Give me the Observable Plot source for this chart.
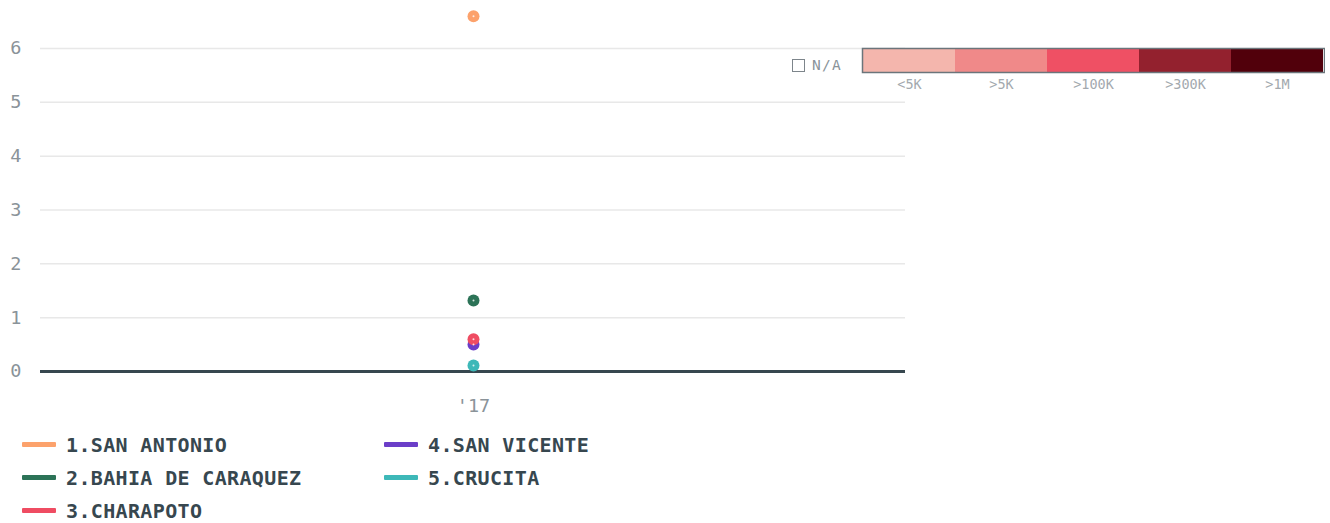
<!DOCTYPE html>
<html>
<head>
<meta charset="utf-8">
<script src="https://cdn.jsdelivr.net/npm/d3@7"></script>
<script src="https://cdn.jsdelivr.net/npm/@observablehq/plot@0.6"></script>
<style>
  body { margin: 0; background: #fff; font-family: "DejaVu Sans Mono", monospace; }
  #wrap { position: relative; width: 1330px; height: 523px; }
  #main { position: absolute; left: 0; top: 0; }
  #scale { position: absolute; left: 861px; top: 47px; }
  #na { position: absolute; left: 792px; top: 57px; display: flex; align-items: center; color: #8a9399; font-size: 14.5px; letter-spacing: 1.3px; }
  #na .box { width: 11px; height: 11px; border: 1.5px solid #7d858b; margin-right: 7px; }
  #legend { position: absolute; left: 22px; top: 428px; display: grid; grid-template-columns: 362px 300px; row-gap: 0; }
  .item { display: flex; align-items: center; height: 33px; font-weight: bold; font-size: 20px; color: #37474f; letter-spacing: 0.35px; }
  .item .sw { width: 34px; height: 5px; margin-right: 10px; border-radius: 1px; }
</style>
</head>
<body>
<div id="wrap">
  <div id="main"></div>
  <div id="na"><span class="box"></span>N/A</div>
  <div id="scale"></div>
  <div id="legend"></div>
</div>
<script>
// Data
const years = ["'17"];
const seriesNames = ["1.SAN ANTONIO", "2.BAHIA DE CARAQUEZ", "3.CHARAPOTO", "4.SAN VICENTE", "5.CRUCITA"];
const seriesColors = ["#fca26c", "#2c7357", "#ef4c62", "#6b3ec8", "#3db8b8"];
const values2017 = [6.6, 1.32, 0.6, 0.5, 0.11];
const yTicks = [0, 1, 2, 3, 4, 5, 6];
const binLabels = ["<5K", ">5K", ">100K", ">300K", ">1M"];
const binColors = ["#f4b6ad", "#f08989", "#ef5064", "#93212e", "#51000b"];

const data = seriesNames.map((name, i) => ({name, year: years[0], value: values2017[i], color: seriesColors[i]}));
const drawOrder = data.slice().reverse();

const chart = Plot.plot({
  width: 1330,
  height: 420,
  marginLeft: 40,
  marginRight: 425,
  marginTop: 15.7,
  marginBottom: 49,
  style: {fontFamily: "DejaVu Sans Mono, monospace", fontSize: "18.5px", color: "#8a9399", background: "transparent"},
  x: {type: "point", domain: years, label: null, tickSize: 0, tickPadding: 27},
  y: {domain: [0, 6.6], ticks: yTicks, label: null, tickSize: 0, tickPadding: 19, tickFormat: d => String(d)},
  marks: [
    Plot.ruleY(yTicks.filter(d => d !== 0), {stroke: "#e8e8e8", strokeWidth: 1.5}),
    Plot.ruleY([0], {stroke: "#37474f", strokeWidth: 3}),
    Plot.dot(drawOrder, {x: "year", y: "value", fill: "color", r: 6}),
    Plot.dot(drawOrder, {x: "year", y: "value", fill: "#ffffff", fillOpacity: 0.8, r: 1})
  ]
});
document.getElementById("main").appendChild(chart);

const scale = Plot.plot({
  width: 464,
  height: 47,
  marginLeft: 1,
  marginRight: 1,
  marginTop: 1,
  marginBottom: 22,
  style: {fontFamily: "DejaVu Sans Mono, monospace", fontSize: "13.5px", color: "#a3a9ae", background: "transparent"},
  x: {type: "band", domain: binLabels, padding: 0, label: null, tickSize: 0, tickPadding: 7},
  color: {type: "ordinal", domain: binLabels, range: binColors},
  marks: [
    Plot.cell(binLabels, {x: d => d, fill: d => d}),
    Plot.frame({stroke: "#6b757b", strokeWidth: 1.5})
  ]
});
document.getElementById("scale").appendChild(scale);

const legend = document.getElementById("legend");
// column-major ordering: items 1-3 in first column, 4-5 in second
const order = [0, 3, 1, 4, 2];
order.forEach(i => {
  const el = document.createElement("div");
  el.className = "item";
  el.innerHTML = `<span class="sw" style="background:${seriesColors[i]}"></span><span>${seriesNames[i]}</span>`;
  legend.appendChild(el);
});
</script>
</body>
</html>
